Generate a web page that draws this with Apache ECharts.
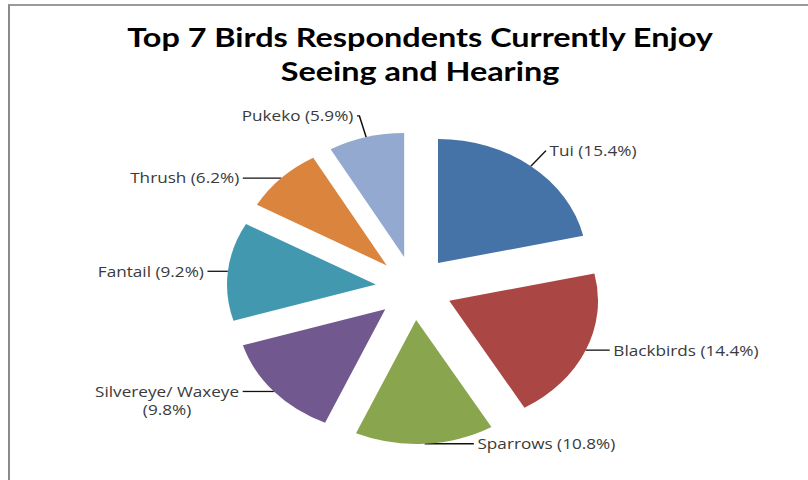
<!DOCTYPE html>
<html>
<head>
<meta charset="utf-8">
<script src="https://cdn.jsdelivr.net/npm/echarts@6/dist/echarts.min.js"></script>
<style>
  html, body { margin: 0; padding: 0; background: #fff; overflow: hidden; }
  #frame {
    position: absolute; left: 8px; top: 4px; width: 820px; height: 490px;
    border-top: 2px solid #9a9a9a; border-left: 2px solid #8a8a8a;
  }
  /* the chart is laid out at 5/6 width and stretched back to the full page width */
  #chart {
    position: absolute; left: 0; top: 0; width: 673.33px; height: 480px;
    transform: scaleX(1.2); transform-origin: 0 0;
  }
</style>
</head>
<body>
<div id="frame"></div>
<div id="chart"></div>
<script>
const birds = ['Tui', 'Blackbirds', 'Sparrows', 'Silvereye/ Waxeye', 'Fantail', 'Thrush', 'Pukeko'];
const shares = [15.4, 14.4, 10.8, 9.8, 9.2, 6.2, 5.9];
const colors = ['#4572A7', '#AA4643', '#89A54E', '#71588F', '#4198AF', '#DB843D', '#93A9CF'];
const titleText = 'Top 7 Birds Respondents Currently Enjoy\nSeeing and Hearing';

// leader line lengths per slice: [radial part, horizontal part]
const leaders = [[20, 0], [0, 20], [0, 41], [0, 26], [0, 17], [0, 32], [22, 2]];

const chart = echarts.init(document.getElementById('chart'), null, { renderer: 'svg' });

function labelText(p) {
  const pct = '(' + p.value + '%)';
  if (p.name.length > 12) {
    // long names wrap, with the percentage centred on its own line
    return '{c|' + p.name + '}\n{c|' + pct + '}';
  }
  return p.name + ' ' + pct;
}

chart.setOption({
  animation: false,
  backgroundColor: 'transparent',
  title: {
    text: titleText,
    left: 345,
    top: 15,
    textAlign: 'center',
    textStyle: {
      fontFamily: 'Lato',
      fontWeight: 'bold',
      fontSize: 27,
      lineHeight: 34,
      color: '#000'
    }
  },
  series: [{
    type: 'pie',
    center: [345, 288],
    radius: 124,
    startAngle: 90,
    clockwise: true,
    selectedMode: 'multiple',
    selectedOffset: 32,
    avoidLabelOverlap: false,
    emphasis: { disabled: true },
    label: {
      show: true,
      position: 'outside',
      fontFamily: 'Open Sans',
      fontSize: 14.3,
      color: '#3a3a3a',
      distanceToLabelLine: 3,
      formatter: labelText,
      rich: {
        c: { align: 'center', fontFamily: 'Open Sans', fontSize: 14.3, color: '#3a3a3a', lineHeight: 18 }
      }
    },
    labelLine: {
      show: true,
      lineStyle: { color: '#111', width: 1.3 }
    },
    itemStyle: { borderWidth: 0 },
    data: birds.map((b, i) => ({
      name: b,
      value: shares[i],
      selected: true,
      itemStyle: { color: colors[i] },
      labelLine: { length: leaders[i][0], length2: leaders[i][1] },
      label: b.length > 12 ? { padding: [18, 0, 0, 0] } : {}
    }))
  }]
});
</script>
</body>
</html>
